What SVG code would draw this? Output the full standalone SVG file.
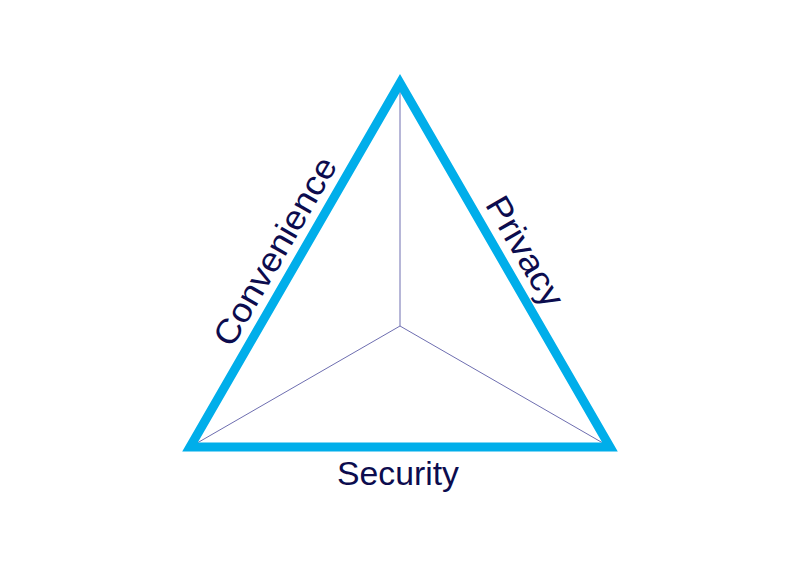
<svg xmlns="http://www.w3.org/2000/svg" width="800" height="565" viewBox="0 0 800 565">
<style>
.lbl{font-family:"Liberation Sans",Arial,sans-serif;font-size:34px;fill:#0c0c4e;text-anchor:middle}
.spoke{stroke:#6e6eb0;stroke-width:1;fill:none}
</style>
<rect width="800" height="565" fill="#ffffff"/>
<g id="connectors">
<line class="spoke" x1="400" y1="326" x2="400" y2="92"/>
<line class="spoke" x1="400" y1="326" x2="198" y2="442.5"/>
<line class="spoke" x1="400" y1="326" x2="602" y2="442.5"/>
</g>
<g id="triangle">
<polygon points="400,83 190,447 610,447" fill="none" stroke="#00aeea" stroke-width="9" stroke-linejoin="miter" stroke-miterlimit="10"/>
</g>
<g id="convenience">
<text class="lbl" transform="translate(285,257) rotate(-60)" textLength="212" lengthAdjust="spacingAndGlyphs">Convenience</text>
</g>
<g id="privacy">
<text class="lbl" transform="translate(515,257) rotate(60)" textLength="122" lengthAdjust="spacingAndGlyphs">Privacy</text>
</g>
<g id="security">
<text class="lbl" x="398" y="485" textLength="122" lengthAdjust="spacingAndGlyphs">Security</text>
</g>
</svg>
